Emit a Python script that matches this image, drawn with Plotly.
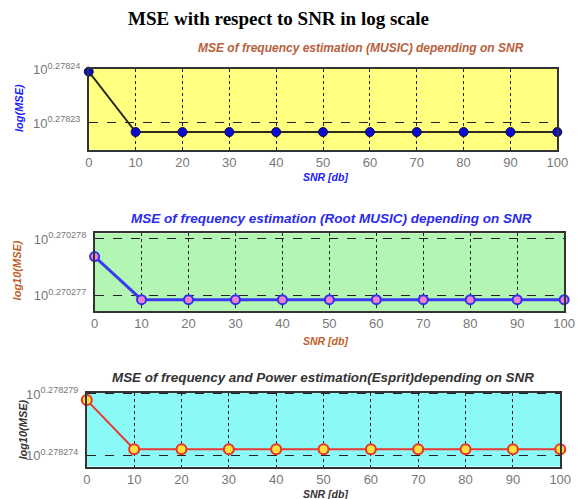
import plotly.graph_objects as go

# ---- data ----
snr_db = [0, 10, 20, 30, 40, 50, 60, 70, 80, 90, 100]

# log10(MSE) exponents
log_mse_music = [0.2782396, 0.2782283, 0.2782283, 0.2782283, 0.2782283, 0.2782283,
                 0.2782283, 0.2782283, 0.2782283, 0.2782283, 0.2782283]
log_mse_root_music = [0.27027769, 0.27027693, 0.27027693, 0.27027693, 0.27027693, 0.27027693,
                      0.27027693, 0.27027693, 0.27027693, 0.27027693, 0.27027693]
log_mse_esprit = [0.2782785, 0.2782745, 0.2782745, 0.2782745, 0.2782745, 0.2782745,
                  0.2782745, 0.2782745, 0.2782745, 0.2782745, 0.2782745]

xticks = [0, 10, 20, 30, 40, 50, 60, 70, 80, 90, 100]
ytick_exp_music = [0.27823, 0.27824]
ytick_lbl_music = ["0.27823", "0.27824"]
ytick_exp_root = [0.270277, 0.270278]
ytick_lbl_root = ["0.270277", "0.270278"]
ytick_exp_esprit = [0.278274, 0.278279]
ytick_lbl_esprit = ["0.278274", "0.278279"]

W, H = 580, 499


def py(px):
    return 1 - px / H


def px_x(px):
    return px / W


fig = go.Figure()

panels = [
    dict(data=log_mse_music, tickexp=ytick_exp_music, ticklbl=ytick_lbl_music,
         xdom=[87, 568], ydom=[144, 62], yrange=[0.2782250, 0.2782401],
         bg="#ffff80", line=dict(color="#2b2b1a", width=2),
         marker=dict(color="#0a0ad0", size=9, line=dict(color="#101040", width=1)),
         title="MSE of frequency estimation (MUSIC) depending on SNR", tcolor="#b8603c",
         tx=366, ty=41, tsize=12,
         xt="SNR [db]", xty=172, yt="log(MSE)", ytx=16, yty=102, acolor="#2020ff"),
    dict(data=log_mse_root_music, tickexp=ytick_exp_root, ticklbl=ytick_lbl_root,
         xdom=[93, 575], ydom=[308, 229], yrange=[0.27027673, 0.27027810],
         bg="#b3f5b3", line=dict(color="#3a3af0", width=3),
         marker=dict(color="#f080d0", size=9, line=dict(color="#3030f0", width=2)),
         title="MSE of frequency estimation (Root MUSIC) depending on SNR", tcolor="#2a2af0",
         tx=336, ty=214, tsize=13.5,
         xt="SNR [db]", xty=338, yt="log10(MSE)", ytx=13, yty=267, acolor="#c0602a"),
    dict(data=log_mse_esprit, tickexp=ytick_exp_esprit, ticklbl=ytick_lbl_esprit,
         xdom=[85, 571], ydom=[466, 391], yrange=[0.2782731, 0.2782791],
         bg="#8cf9f9", line=dict(color="#e83a30", width=2),
         marker=dict(color="#ffe040", size=10, line=dict(color="#f03020", width=2)),
         title="MSE of frequency and Power estimation(Esprit)depending on SNR", tcolor="#333333",
         tx=327, ty=376, tsize=13.4,
         xt="SNR [db]", xty=494, yt="log10(MSE)", ytx=20, yty=428, acolor="#333333"),
]

layout = {}
for i, p in enumerate(panels, start=1):
    xa = "xaxis" if i == 1 else f"xaxis{i}"
    ya = "yaxis" if i == 1 else f"yaxis{i}"
    xr = "x" if i == 1 else f"x{i}"
    yr = "y" if i == 1 else f"y{i}"
    fig.add_trace(go.Scatter(
        x=snr_db, y=[10 ** v for v in p["data"]], mode="lines+markers",
        line=p["line"], marker=p["marker"], cliponaxis=False,
        xaxis=xr, yaxis=yr, showlegend=False))
    layout[xa] = dict(
        domain=[px_x(p["xdom"][0]), px_x(p["xdom"][1])], range=[0, 100],
        anchor=yr, tickvals=xticks, ticktext=[str(t) for t in xticks],
        showline=True, mirror=True, linecolor="#333333", linewidth=1.5,
        showgrid=True, gridcolor="#222222", griddash="dot", gridwidth=1,
        zeroline=False, ticks="", ticklen=0, ticklabelstandoff=0,
        tickfont=dict(family="Arial, Liberation Sans", size=13, color="#777777"))
    layout[ya] = dict(
        domain=[py(p["ydom"][0]), py(p["ydom"][1])], type="log", range=p["yrange"],
        anchor=xr, tickvals=[10 ** e for e in p["tickexp"]],
        ticktext=[f"10<sup>{t}</sup>" for t in p["ticklbl"]],
        showline=True, mirror=True, linecolor="#333333", linewidth=1.5,
        showgrid=True, gridcolor="#222222", griddash="dash", gridwidth=1,
        zeroline=False, ticks="", ticklen=0, ticklabelstandoff=4,
        tickfont=dict(family="Arial, Liberation Sans", size=13, color="#777777"))
    fig.add_shape(type="rect", xref=f"{xr} domain", yref=f"{yr} domain",
                  x0=0, x1=1, y0=0, y1=1, fillcolor=p["bg"], line=dict(width=0), layer="below")
    fig.add_annotation(text=f"<i><b>{p['title']}</b></i>", xref="paper", yref="paper",
                       x=px_x(p["tx"]), y=py(p["ty"]), xanchor="center", yanchor="middle",
                       showarrow=False,
                       font=dict(family="Arial, Liberation Sans", size=p["tsize"], color=p["tcolor"]))
    fig.add_annotation(text=f"<i><b>{p['xt']}</b></i>", xref="paper", yref="paper",
                       x=px_x(330), y=py(p["xty"]), xanchor="center", yanchor="middle",
                       showarrow=False,
                       font=dict(family="Arial, Liberation Sans", size=10.5, color=p["acolor"]))
    fig.add_annotation(text=f"<i><b>{p['yt']}</b></i>", xref="paper", yref="paper",
                       x=px_x(p["ytx"]), y=py(p["yty"]), xanchor="center", yanchor="middle",
                       showarrow=False, textangle=-90,
                       font=dict(family="Arial, Liberation Sans", size=11, color=p["acolor"]))

fig.add_annotation(text="<b>MSE with respect to SNR in log scale</b>", xref="paper", yref="paper",
                   x=px_x(282), y=py(11), xanchor="center", yanchor="middle", showarrow=False,
                   font=dict(family="Liberation Serif, Times New Roman", size=19, color="black"))

fig.update_layout(width=W, height=H, margin=dict(l=0, r=0, t=0, b=0),
                  paper_bgcolor="white", plot_bgcolor="rgba(0,0,0,0)", **layout)

fig.write_html("out.html")
